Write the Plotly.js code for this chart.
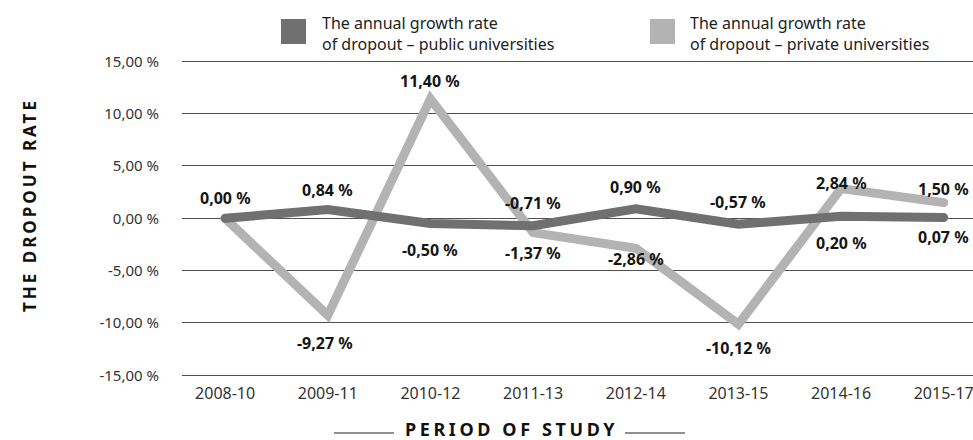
<!DOCTYPE html>
<html>
<head>
<meta charset="utf-8">
<script src="https://cdn.plot.ly/plotly-3.0.1.min.js"></script>
<style>
  html, body { margin: 0; padding: 0; background: #fff; }
  #chart { width: 973px; height: 440px; }
  .scatterlayer path.js-line { stroke-linecap: round; }
  text[data-unformatted="THE DROPOUT RATE"] { letter-spacing: 3px; }
  text[data-unformatted="PERIOD OF STUDY"] { letter-spacing: 3.6px; }
</style>
</head>
<body>
<div id="chart"></div>
<script>
// Study periods on the x axis
const periods = ['2008-10', '2009-11', '2010-12', '2011-13', '2012-14', '2013-15', '2014-16', '2015-17'];

// Annual growth rate of dropout, in percent
const publicRates  = [0.00, 0.84, -0.50, -0.71, 0.90, -0.57, 0.20, 0.07];
const privateRates = [0.00, -9.27, 11.40, -1.37, -2.86, -10.12, 2.84, 1.50];

// Y axis ticks
const yTicks = [-15, -10, -5, 0, 5, 10, 15];

// Series names
const publicName  = 'The annual growth rate<br>of dropout – public universities';
const privateName = 'The annual growth rate<br>of dropout – private universities';

// Label offsets in pixels (above: positive, below: negative); null = no label
const publicShift  = [20, 20, -26, 23, 22, 22, -27, -19];
const privateShift = [null, -28, 18, -20, -11, -24, 6, 14];
const privateXShift = [0, -3, 0, 0, 0, 0, 0, 0];

const DARK = '#707070';
const LIGHT = '#b3b3b3';
const FONT = '"Noto Sans", "DejaVu Sans", sans-serif';

const W = 973, H = 440;
const M = { l: 182, r: 0, t: 60, b: 63 };
const px = x => (x - M.l) / (W - M.l - M.r);
const py = y => (H - M.b - y) / (H - M.t - M.b);

const fmt = v => v.toFixed(2).replace('.', ',') + ' %';

const traces = [
  {
    x: periods, y: privateRates, type: 'scatter', mode: 'lines',
    name: privateName, line: { color: LIGHT, width: 9 }, hoverinfo: 'skip'
  },
  {
    x: periods, y: publicRates, type: 'scatter', mode: 'lines',
    name: publicName, line: { color: DARK, width: 9 }, hoverinfo: 'skip'
  }
];

const labelFont = { family: FONT, size: 16, color: '#151515', weight: 700 };
const annotations = [];
publicRates.forEach((v, i) => {
  annotations.push({
    x: periods[i], y: v, xref: 'x', yref: 'y', text: '<b>' + fmt(v) + '</b>',
    showarrow: false, yshift: publicShift[i], font: labelFont
  });
});
privateRates.forEach((v, i) => {
  if (privateShift[i] === null) return;
  annotations.push({
    x: periods[i], y: v, xref: 'x', yref: 'y', text: '<b>' + fmt(v) + '</b>',
    showarrow: false, yshift: privateShift[i], xshift: privateXShift[i], font: labelFont
  });
});

// Legend entries
const legendFont = { family: FONT, size: 16, color: '#222' };
annotations.push({
  x: px(320), y: py(33), xref: 'paper', yref: 'paper', xanchor: 'left', yanchor: 'middle',
  align: 'left', text: publicName, showarrow: false, font: legendFont
});
annotations.push({
  x: px(688), y: py(33), xref: 'paper', yref: 'paper', xanchor: 'left', yanchor: 'middle',
  align: 'left', text: privateName, showarrow: false, font: legendFont
});

// Axis titles
annotations.push({
  x: px(29), y: py(205), xref: 'paper', yref: 'paper', xanchor: 'center', yanchor: 'middle',
  textangle: -90, text: 'THE DROPOUT RATE', showarrow: false,
  font: { family: FONT, size: 17, color: '#111', weight: 700 }
});
annotations.push({
  x: px(511), y: py(429), xref: 'paper', yref: 'paper', xanchor: 'center', yanchor: 'middle',
  text: 'PERIOD OF STUDY', showarrow: false,
  font: { family: FONT, size: 18, color: '#111', weight: 700 }
});

const shapes = [
  { type: 'rect', xref: 'paper', yref: 'paper', x0: px(281), x1: px(306), y0: py(44), y1: py(19),
    fillcolor: DARK, line: { width: 0 } },
  { type: 'rect', xref: 'paper', yref: 'paper', x0: px(650), x1: px(675), y0: py(44), y1: py(19),
    fillcolor: LIGHT, line: { width: 0 } },
  { type: 'line', xref: 'paper', yref: 'paper', x0: px(334), x1: px(394), y0: py(433), y1: py(433),
    line: { color: '#222', width: 1.2 } },
  { type: 'line', xref: 'paper', yref: 'paper', x0: px(625), x1: px(685), y0: py(433), y1: py(433),
    line: { color: '#222', width: 1.2 } }
];

const layout = {
  width: W, height: H,
  margin: M,
  paper_bgcolor: '#fff', plot_bgcolor: '#fff',
  showlegend: false,
  font: { family: FONT, color: '#333' },
  xaxis: {
    type: 'category', range: [-0.42, 7.285],
    showgrid: false, zeroline: false, showline: false, ticks: '',
    tickfont: { family: FONT, size: 16, color: '#333' },
    ticklabelstandoff: 5, fixedrange: true
  },
  yaxis: {
    range: [-15.16, 15.12],
    tickvals: yTicks, ticktext: yTicks.map(fmt),
    showgrid: true, gridcolor: '#505050', gridwidth: 1,
    zeroline: false, showline: false, ticks: '',
    tickfont: { family: FONT, size: 15, color: '#333' },
    ticklabelstandoff: 22, fixedrange: true
  },
  annotations: annotations,
  shapes: shapes
};

Plotly.newPlot('chart', traces, layout, { staticPlot: true, displayModeBar: false });
</script>
</body>
</html>
